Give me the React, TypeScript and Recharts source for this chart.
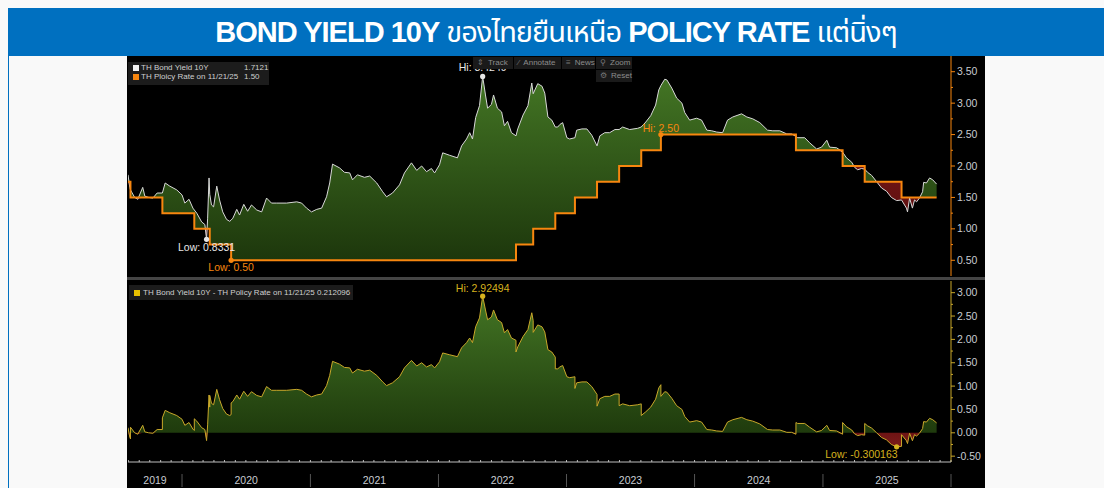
import React from 'react';
import { ComposedChart, Area, Line, XAxis, YAxis, ReferenceDot } from 'recharts';

// ---------- DATA ----------
const bondDates: string[] = [
  '2019-07-31','2019-08-05','2019-08-07','2019-08-19','2019-08-28','2019-09-11','2019-09-17','2019-09-28','2019-10-10','2019-10-22',
  '2019-11-06','2019-11-14','2019-11-27','2019-12-17','2020-01-01','2020-01-09','2020-01-21','2020-02-01','2020-02-05','2020-02-12',
  '2020-02-26','2020-03-06','2020-03-11','2020-03-14','2020-03-18','2020-03-20','2020-03-25','2020-03-31','2020-04-09','2020-04-17',
  '2020-04-26','2020-05-07','2020-05-16','2020-05-20','2020-05-25','2020-06-05','2020-06-13','2020-06-25','2020-07-06','2020-07-17',
  '2020-08-01','2020-08-15','2020-08-29','2020-09-12','2020-09-27','2020-10-25','2020-11-23','2020-12-07','2020-12-21','2021-01-04',
  '2021-01-19','2021-02-02','2021-02-16','2021-02-25','2021-03-05','2021-03-25','2021-04-08','2021-04-23','2021-05-01','2021-05-15',
  '2021-06-04','2021-06-19','2021-07-09','2021-07-26','2021-08-06','2021-08-23','2021-09-12','2021-09-26','2021-10-16','2021-10-31',
  '2021-11-14','2021-11-28','2021-12-12','2021-12-21','2022-01-04','2022-01-13','2022-02-02','2022-02-24','2022-03-08','2022-03-22',
  '2022-03-31','2022-04-08','2022-04-17','2022-04-28','2022-05-07','2022-05-15','2022-05-21','2022-06-01','2022-06-07','2022-06-18',
  '2022-06-30','2022-07-08','2022-07-17','2022-07-28','2022-08-10','2022-08-15','2022-08-30','2022-09-13','2022-09-24','2022-09-28',
  '2022-10-11','2022-10-23','2022-10-31','2022-11-09','2022-11-20','2022-11-30','2022-12-07','2022-12-13','2022-12-21','2023-01-02',
  '2023-01-10','2023-01-25','2023-01-30','2023-02-14','2023-02-28','2023-03-14','2023-03-29','2023-04-06','2023-04-20','2023-05-04',
  '2023-05-19','2023-05-31','2023-06-10','2023-06-30','2023-07-23','2023-08-02','2023-08-15','2023-08-29','2023-09-12','2023-09-21',
  '2023-09-27','2023-10-08','2023-10-14','2023-10-28','2023-11-11','2023-11-26','2023-12-04','2023-12-18','2024-01-07','2024-01-21',
  '2024-02-05','2024-02-19','2024-03-04','2024-03-21','2024-04-04','2024-04-19','2024-05-14','2024-05-29','2024-06-15','2024-07-05',
  '2024-07-27','2024-08-11','2024-08-31','2024-09-20','2024-10-04','2024-10-16','2024-10-21','2024-11-10','2024-11-24','2024-12-14',
  '2024-12-28','2025-01-12','2025-01-20','2025-02-09','2025-02-26','2025-03-09','2025-03-24','2025-04-01','2025-04-10','2025-04-21',
  '2025-04-30','2025-05-08','2025-05-20','2025-06-03','2025-06-17','2025-07-01','2025-07-15','2025-07-30','2025-08-13','2025-08-27',
  '2025-08-30','2025-09-05','2025-09-13','2025-09-19','2025-09-25','2025-10-03','2025-10-12','2025-10-15','2025-10-23','2025-11-01',
  '2025-11-10','2025-11-21',
];
const bondYield: number[] = [
  1.86,1.66,1.62,1.50,1.47,1.66,1.52,1.50,1.49,1.57,
  1.57,1.73,1.68,1.62,1.54,1.41,1.47,1.33,1.30,1.25,
  1.11,1.07,0.8331,1.17,1.81,1.55,1.38,1.35,1.68,1.46,
  1.27,1.15,1.12,1.14,1.17,1.31,1.22,1.39,1.28,1.38,
  1.30,1.27,1.49,1.41,1.41,1.41,1.43,1.41,1.33,1.27,
  1.31,1.33,1.51,1.73,2.03,1.97,1.90,1.89,1.78,1.86,
  1.82,1.84,1.73,1.59,1.51,1.57,1.70,1.89,2.05,1.93,
  2.00,1.91,1.96,1.89,2.02,2.21,2.17,2.13,2.32,2.43,
  2.53,2.43,2.77,2.96,3.42494,3.13,2.92,2.98,3.13,2.92,
  2.86,2.64,2.71,2.53,2.48,2.59,2.81,2.96,3.32,3.15,
  3.31,3.27,3.16,2.78,2.73,2.62,2.62,2.66,2.69,2.45,
  2.43,2.45,2.57,2.59,2.59,2.49,2.32,2.48,2.53,2.53,
  2.58,2.58,2.62,2.58,2.60,2.62,2.70,2.80,2.97,3.21,
  3.28,3.38,3.37,3.24,3.08,3.00,2.85,2.73,2.76,2.73,
  2.57,2.56,2.54,2.53,2.73,2.78,2.83,2.78,2.75,2.69,
  2.57,2.56,2.56,2.51,2.51,2.47,2.45,2.45,2.37,2.27,
  2.30,2.41,2.30,2.29,2.22,2.13,2.06,1.98,1.94,1.96,
  1.95,1.90,1.85,1.75,1.65,1.60,1.50,1.449837,1.46,1.33,
  1.27,1.49,1.33,1.46,1.43,1.49,1.59,1.74,1.73,1.81,
  1.78,1.712096,
];
const policyDates: string[] = [
  '2019-07-31','2019-08-07','2019-11-06','2020-02-05','2020-03-20','2020-05-20',
  '2022-08-10','2022-09-28','2022-11-30','2023-01-25','2023-03-29','2023-05-31',
  '2023-08-02','2023-09-27','2024-10-16','2025-02-26','2025-04-30','2025-08-13',
];
const policyRate: number[] = [
  1.75,1.50,1.25,1.00,0.75,0.50,
  0.75,1.00,1.25,1.50,1.75,2.00,
  2.25,2.50,2.25,2.00,1.75,1.50,
];
const yearLabels: string[] = ['2019','2020','2021','2022','2023','2024','2025'];
const topAxisTicks: number[] = [0.5,1.0,1.5,2.0,2.5,3.0,3.5];
const bottomAxisTicks: number[] = [-0.5,0,0.5,1.0,1.5,2.0,2.5,3.0];
const asOfDate = '11/21/25';

// ---------- HELPERS ----------
const toT = (s: string) => { const [y, m, d] = s.split('-').map(Number); return Date.UTC(y, m - 1, d); };
const X_START = toT(bondDates[0]);
const X_END = Date.UTC(2026, 0, 1);
const policyT = policyDates.map(toT);
const policyAt = (t: number) => { let v = policyRate[0]; policyT.forEach((pt, i) => { if (pt <= t) v = policyRate[i]; }); return v; };

type Row = { t: number; bond: number; policy: number; g: [number, number]; r: [number, number]; spread: number; sp: [number, number]; sn: [number, number] };
const rows: Row[] = [];
const pushRow = (t: number, b: number, p: number) => {
  const s = b - p;
  rows.push({ t, bond: b, policy: p, g: [p, Math.max(b, p)], r: [Math.min(b, p), p], spread: s, sp: [0, Math.max(s, 0)], sn: [Math.min(s, 0), 0] });
};
bondDates.forEach((d, i) => {
  const t = toT(d);
  const k = policyT.indexOf(t);
  if (k > 0) pushRow(t, bondYield[i], policyRate[k - 1]);
  pushRow(t, bondYield[i], policyAt(t));
});

const argMax = (arr: number[]) => arr.reduce((bi, v, i) => (v > arr[bi] ? i : bi), 0);
const argMin = (arr: number[]) => arr.reduce((bi, v, i) => (v < arr[bi] ? i : bi), 0);
const bondHi = rows[argMax(rows.map(r => r.bond))];
const bondLo = rows[argMin(rows.map(r => r.bond))];
const polHi = rows[argMax(rows.map(r => r.policy))];
const polLo = rows[argMin(rows.map(r => r.policy))];
const spHi = rows[argMax(rows.map(r => r.spread))];
const spLo = rows[argMin(rows.map(r => r.spread))];
const last = rows[rows.length - 1];

const withMinor = (ticks: number[]) => {
  const out: number[] = [];
  ticks.forEach((v, i) => { out.push(v); if (i < ticks.length - 1) out.push((v + ticks[i + 1]) / 2); });
  return out;
};

const monthTicks: number[] = [];
for (let y = 2019; y <= 2025; y++) for (let m = 0; m < 12; m++) { const t = Date.UTC(y, m, 1); if (t > X_START) monthTicks.push(t); }
monthTicks.push(X_END);
const labelTicks = yearLabels.map(l => { const y = Number(l); return (Math.max(Date.UTC(y, 0, 1), X_START) + Date.UTC(y + 1, 0, 1)) / 2; });
const xTicks = [...monthTicks, ...labelTicks].sort((a, b) => a - b);

const FONT = '"Liberation Sans", Arial, Helvetica, sans-serif';
const AXIS_TXT = '#c8ccd2';

const makeYTick = (color: string, majors: number[]) => (props: any) => {
  const { x, y, payload } = props;
  const v = payload.value as number;
  const major = majors.some(m => Math.abs(m - v) < 1e-9);
  return (
    <g>
      <line x1={x} x2={x + (major ? 4 : 2)} y1={y} y2={y} stroke={color} strokeWidth={1} />
      {major && (
        <text x={x + 6} y={y + 3.6} fill={AXIS_TXT} fontSize={10.5} fontFamily={FONT}>{v.toFixed(2)}</text>
      )}
    </g>
  );
};

const XTick = (props: any) => {
  const { x, y, payload } = props;
  const v = payload.value as number;
  const li = labelTicks.findIndex(t => Math.abs(t - v) < 1);
  if (li >= 0) {
    return <text x={x} y={y + 22} textAnchor="middle" fill={AXIS_TXT} fontSize={10.5} fontFamily={FONT}>{yearLabels[li]}</text>;
  }
  const isJan = new Date(v).getUTCMonth() === 0;
  return (
    <g>
      <line x1={x} x2={x} y1={y - 2} y2={y} stroke="#bdbdbd" strokeWidth={1} />
      {isJan && <line x1={x} x2={x} y1={y + 12} y2={y + 25} stroke="#555" strokeWidth={1} />}
    </g>
  );
};

const marker = (color: string, text: string, dy: number, anchor: 'middle' | 'end' = 'middle', dx = 0) => (p: any) => (
  <g>
    <circle cx={p.cx} cy={p.cy} r={2.6} fill={color} />
    <text x={p.cx + dx} y={p.cy + dy} textAnchor={anchor} fill={color} fontSize={10.5} fontFamily={FONT}>{text}</text>
  </g>
);

const abs = (s: React.CSSProperties): React.CSSProperties => ({ position: 'absolute', ...s });

const Btn = ({ x, y, w, icon, label }: { x: number; y: number; w: number; icon: string; label: string }) => (
  <div style={abs({ left: x, top: y, width: w, height: 12, background: '#1a1a1a', color: '#8d8d8d', fontSize: 8, lineHeight: '12px', fontFamily: FONT, whiteSpace: 'nowrap' })}>
    <span style={{ marginLeft: 4, marginRight: 4, color: '#777' }}>{icon}</span>{label}
  </div>
);

export default function App() {
  const ORANGE = '#f7860f';
  const GOLD = '#c9a82a';
  return (
    <div style={abs({ left: 0, top: 0, width: 1104, height: 488, background: '#f9f9f9', overflow: 'hidden', fontFamily: FONT })}>
      {/* title */}
      <div style={abs({ left: 8, top: 8, width: 1096, height: 48, background: '#0070c0', color: '#fff', textAlign: 'center', lineHeight: '48px', fontSize: 29, letterSpacing: -1, whiteSpace: 'nowrap', fontFamily: '"Liberation Sans", "Noto Sans Thai", "Loma", "Garuda", sans-serif' })}>
        <span style={{ fontWeight: 700 }}>BOND YIELD 10Y</span> <span>ของไทยยืนเหนือ</span> <span style={{ fontWeight: 700 }}>POLICY RATE</span> <span>แต่นิ่งๆ</span>
      </div>
      <div style={abs({ left: 8, top: 56, width: 1, height: 432, background: '#0070c0' })} />
      {/* black panel */}
      <div style={abs({ left: 127, top: 56, width: 858, height: 432, background: '#000' })} />

      {/* top chart */}
      <div style={abs({ left: 128, top: 56 })}>
        <ComposedChart width={857} height={220} data={rows} margin={{ top: 0, right: 0, bottom: 0, left: 0 }}>
          <defs>
            <linearGradient id="gTop" x1="0" y1="0" x2="0" y2="1">
              <stop offset="0%" stopColor="#437524" />
              <stop offset="100%" stopColor="#1d370c" />
            </linearGradient>
            <linearGradient id="rTop" x1="0" y1="0" x2="0" y2="1">
              <stop offset="0%" stopColor="#7a1818" />
              <stop offset="100%" stopColor="#520c0c" />
            </linearGradient>
          </defs>
          <XAxis dataKey="t" type="number" domain={[X_START, X_END]} hide allowDataOverflow />
          <YAxis orientation="right" type="number" domain={[0.25, 3.75]} allowDataOverflow width={34}
            ticks={withMinor(topAxisTicks)} interval={0} tickSize={0} tickMargin={0} tickLine={false}
            axisLine={{ stroke: ORANGE, strokeWidth: 1 }} tick={makeYTick(ORANGE, topAxisTicks)} />
          <Area dataKey="g" type="linear" stroke="none" fill="url(#gTop)" fillOpacity={1} isAnimationActive={false} />
          <Area dataKey="r" type="linear" stroke="none" fill="url(#rTop)" fillOpacity={1} isAnimationActive={false} />
          <Line dataKey="bond" type="linear" stroke="#d8d8d8" strokeWidth={1} dot={false} isAnimationActive={false} />
          <Line dataKey="policy" type="linear" stroke={ORANGE} strokeWidth={2} dot={false} isAnimationActive={false} />
          <ReferenceDot x={bondHi.t} y={bondHi.bond} r={3} shape={marker('#e6e6e6', `Hi: ${bondHi.bond.toFixed(4)}`, -5)} />
          <ReferenceDot x={bondLo.t} y={bondLo.bond} r={3} shape={marker('#e6e6e6', `Low: ${bondLo.bond.toFixed(4)}`, 12)} />
          <ReferenceDot x={polHi.t} y={polHi.policy} r={3} shape={marker(ORANGE, `Hi: ${polHi.policy.toFixed(2)}`, -3)} />
          <ReferenceDot x={polLo.t} y={polLo.policy} r={3} shape={marker(ORANGE, `Low: ${polLo.policy.toFixed(2)}`, 11)} />
        </ComposedChart>
      </div>

      {/* separator */}
      <div style={abs({ left: 127, top: 277, width: 858, height: 3, background: '#454545' })} />

      {/* bottom chart */}
      <div style={abs({ left: 128, top: 281 })}>
        <ComposedChart width={857} height={207} data={rows} margin={{ top: 0, right: 0, bottom: 0, left: 0 }}>
          <defs>
            <linearGradient id="gBot" x1="0" y1="0" x2="0" y2="1">
              <stop offset="0%" stopColor="#437524" />
              <stop offset="100%" stopColor="#1f3b0d" />
            </linearGradient>
            <linearGradient id="rBot" x1="0" y1="0" x2="0" y2="1">
              <stop offset="0%" stopColor="#6e1414" />
              <stop offset="100%" stopColor="#7a1a1a" />
            </linearGradient>
          </defs>
          <XAxis dataKey="t" type="number" domain={[X_START, X_END]} allowDataOverflow height={26}
            ticks={xTicks} interval={0} tickSize={0} tickMargin={0} tickLine={false}
            axisLine={{ stroke: '#bdbdbd', strokeWidth: 1 }} tick={XTick} />
          <YAxis orientation="right" type="number" domain={[-0.625, 3.25]} allowDataOverflow width={34}
            ticks={withMinor(bottomAxisTicks)} interval={0} tickSize={0} tickMargin={0} tickLine={false}
            axisLine={{ stroke: GOLD, strokeWidth: 1 }} tick={makeYTick(GOLD, bottomAxisTicks)} />
          <Area dataKey="sp" type="linear" stroke="none" fill="url(#gBot)" fillOpacity={1} isAnimationActive={false} />
          <Area dataKey="sn" type="linear" stroke="none" fill="url(#rBot)" fillOpacity={1} isAnimationActive={false} />
          <Line dataKey="spread" type="linear" stroke={GOLD} strokeWidth={1} dot={false} isAnimationActive={false} />
          <ReferenceDot x={spHi.t} y={spHi.spread} r={3} shape={marker('#d6b21e', `Hi: ${spHi.spread.toFixed(5)}`, -4)} />
          <ReferenceDot x={spLo.t} y={spLo.spread} r={3} shape={marker('#d6b21e', `Low: ${spLo.spread.toFixed(6)}`, 11, 'end', 1)} />
        </ComposedChart>
      </div>

      {/* top legend */}
      <div style={abs({ left: 128, top: 62, width: 141, height: 23, background: '#1c1c1c' })} />
      <div style={abs({ left: 133, top: 65, width: 6, height: 6, background: '#f2f2f2' })} />
      <div style={abs({ left: 133, top: 74, width: 6, height: 6, background: ORANGE })} />
      <div style={abs({ left: 141, top: 63, fontSize: 8, lineHeight: '10px', color: '#cfcfcf', whiteSpace: 'nowrap' })}>TH Bond Yield 10Y</div>
      <div style={abs({ left: 244, top: 63, fontSize: 8, lineHeight: '10px', color: '#cfcfcf' })}>{last.bond.toFixed(4)}</div>
      <div style={abs({ left: 141, top: 72, fontSize: 8, lineHeight: '10px', color: '#cfcfcf', whiteSpace: 'nowrap' })}>{`TH Ploicy Rate on ${asOfDate}`}</div>
      <div style={abs({ left: 244, top: 72, fontSize: 8, lineHeight: '10px', color: '#cfcfcf' })}>{last.policy.toFixed(2)}</div>

      {/* bottom legend */}
      <div style={abs({ left: 129, top: 285, width: 224, height: 15, background: '#1c1c1c' })} />
      <div style={abs({ left: 134, top: 290, width: 6, height: 6, background: '#e8c000' })} />
      <div style={abs({ left: 143, top: 287, fontSize: 8, lineHeight: '11px', color: '#cfcfcf', whiteSpace: 'nowrap' })}>{`TH Bond Yield 10Y - TH Policy Rate on ${asOfDate} ${last.spread.toFixed(6)}`}</div>

      {/* toolbar */}
      <Btn x={473} y={57} w={40} icon="⇕" label="Track" />
      <Btn x={514} y={57} w={47} icon="⁄" label="Annotate" />
      <Btn x={562} y={57} w={33} icon="≡" label="News" />
      <Btn x={596} y={57} w={36} icon="⚲" label="Zoom" />
      <Btn x={596} y={70} w={36} icon="⚙" label="Reset" />
    </div>
  );
}
